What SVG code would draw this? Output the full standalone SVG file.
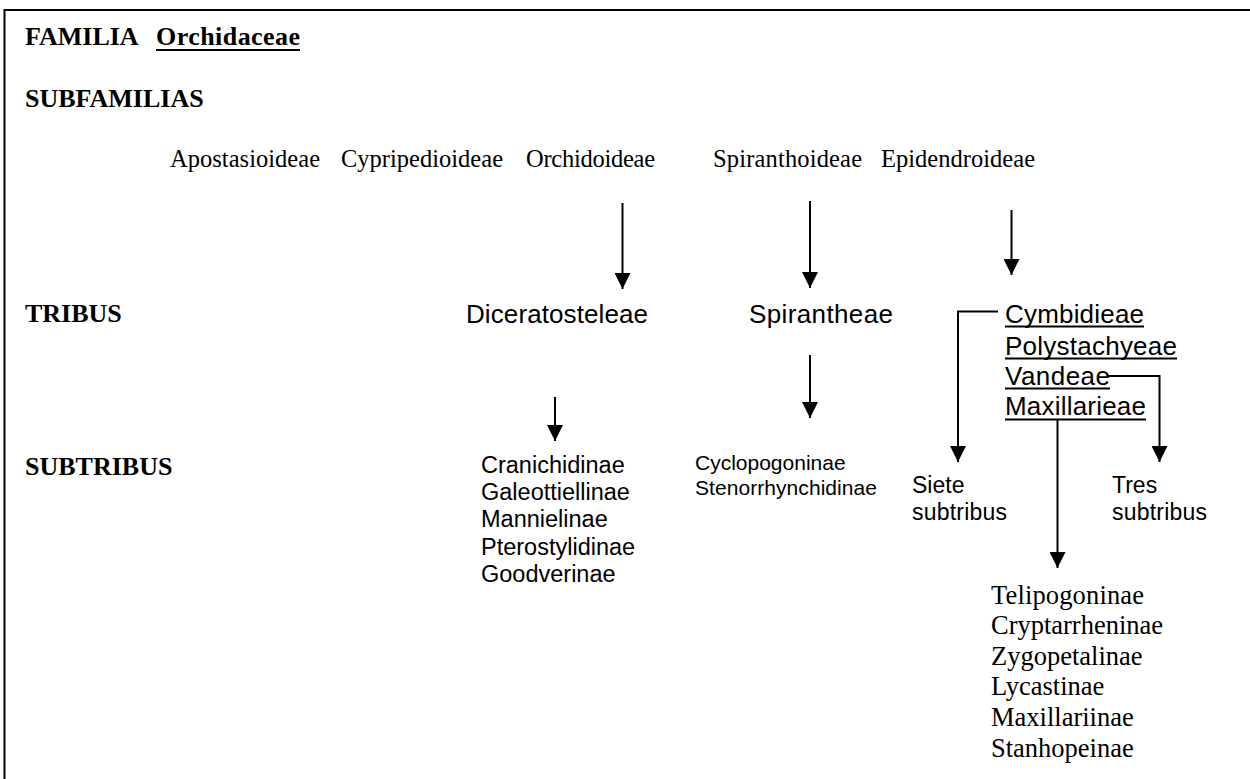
<svg xmlns="http://www.w3.org/2000/svg" width="1250" height="779" viewBox="0 0 1250 779">
<defs>
<marker id="ah" markerUnits="userSpaceOnUse" markerWidth="16" markerHeight="16" viewBox="0 0 16 16" refX="16" refY="8" orient="auto">
<path d="M0,0 L16,8 L0,16 z" fill="#000"/>
</marker>
<style>
.hd{font-family:"Liberation Serif","Times New Roman",serif;font-weight:bold;font-size:26px;fill:#000}
.sf{font-family:"Liberation Serif","Times New Roman",serif;font-size:24.5px;fill:#000}
.tb{font-family:"Liberation Sans",Arial,sans-serif;font-size:26px;fill:#000}
.st{font-family:"Liberation Sans",Arial,sans-serif;font-size:23.5px;fill:#000}
.st2{font-family:"Liberation Sans",Arial,sans-serif;font-size:21px;fill:#000}
.st3{font-family:"Liberation Sans",Arial,sans-serif;font-size:23px;fill:#000}
.tl{font-family:"Liberation Serif","Times New Roman",serif;font-size:26.5px;fill:#000}
.ul{stroke:#000;stroke-width:2;fill:none}
.cn{stroke:#000;stroke-width:2;fill:none}
.ar{stroke:#000;stroke-width:2;fill:none;marker-end:url(#ah)}
</style>
</defs>
<rect width="1250" height="779" fill="#fff"/>
<g id="border">
<line x1="4.5" y1="10" x2="4.5" y2="779" stroke="#000" stroke-width="2"/>
<line x1="3.5" y1="10" x2="1250" y2="10" stroke="#000" stroke-width="2"/>
</g>
<g id="headings">
<text class="hd" x="25" y="45">FAMILIA</text>
<text class="hd" x="156" y="45" textLength="144">Orchidaceae</text>
<line class="ul" x1="156" y1="50" x2="300" y2="50"/>
<text class="hd" x="25" y="107">SUBFAMILIAS</text>
<text class="hd" x="25" y="322">TRIBUS</text>
<text class="hd" x="25" y="475">SUBTRIBUS</text>
</g>
<g id="subfamilias">
<text class="sf" x="170" y="167" textLength="150">Apostasioideae</text>
<text class="sf" x="341" y="167" textLength="162">Cypripedioideae</text>
<text class="sf" x="526" y="167" textLength="129">Orchidoideae</text>
<text class="sf" x="713" y="167" textLength="149">Spiranthoideae</text>
<text class="sf" x="881" y="167" textLength="154">Epidendroideae</text>
</g>
<g id="tribu-diceratosteleae">
<text class="tb" x="466" y="323" textLength="182">Diceratosteleae</text>
</g>
<g id="tribu-spirantheae">
<text class="tb" x="749" y="323" textLength="144">Spirantheae</text>
</g>
<g id="tribus-epidendroideae">
<text class="tb" x="1005" y="323" textLength="139">Cymbidieae</text>
<line class="ul" x1="1005" y1="326.5" x2="1144" y2="326.5"/>
<text class="tb" x="1005" y="355" textLength="172">Polystachyeae</text>
<line class="ul" x1="1005" y1="358.5" x2="1177" y2="358.5"/>
<text class="tb" x="1005" y="385" textLength="105">Vandeae</text>
<line class="ul" x1="1005" y1="388.5" x2="1110" y2="388.5"/>
<text class="tb" x="1005" y="415" textLength="141">Maxillarieae</text>
<line class="ul" x1="1005" y1="419.5" x2="1146" y2="419.5"/>
</g>
<g id="subtribus-diceratosteleae">
<text class="st" x="481" y="473">Cranichidinae</text>
<text class="st" x="481" y="499.5">Galeottiellinae</text>
<text class="st" x="481" y="527">Mannielinae</text>
<text class="st" x="481" y="555">Pterostylidinae</text>
<text class="st" x="481" y="582">Goodverinae</text>
</g>
<g id="subtribus-spirantheae">
<text class="st2" x="695" y="470">Cyclopogoninae</text>
<text class="st2" x="695" y="495" textLength="182">Stenorrhynchidinae</text>
</g>
<g id="siete">
<text class="st3" x="912" y="493">Siete</text>
<text class="st3" x="912" y="520" textLength="95">subtribus</text>
</g>
<g id="tres">
<text class="st3" x="1112" y="493">Tres</text>
<text class="st3" x="1112" y="520" textLength="95">subtribus</text>
</g>
<g id="subtribus-maxillarieae">
<text class="tl" x="991" y="603.5" textLength="153">Telipogoninae</text>
<text class="tl" x="991" y="634" textLength="172">Cryptarrheninae</text>
<text class="tl" x="991" y="665">Zygopetalinae</text>
<text class="tl" x="991" y="695">Lycastinae</text>
<text class="tl" x="991" y="726">Maxillariinae</text>
<text class="tl" x="991" y="757">Stanhopeinae</text>
</g>
<g id="connectors">
<line class="ar" x1="622.5" y1="203" x2="622.5" y2="289"/>
<line class="ar" x1="810" y1="201" x2="810" y2="288"/>
<line class="ar" x1="1011.5" y1="210" x2="1011.5" y2="275"/>
<line class="ar" x1="555" y1="397" x2="555" y2="441"/>
<line class="ar" x1="810" y1="355" x2="810" y2="418"/>
<polyline class="ar" points="998,311.5 958,311.5 958,462"/>
<polyline class="ar" points="1108,376 1159.5,376 1159.5,462"/>
<line class="ar" x1="1057.5" y1="419" x2="1057.5" y2="568"/>
</g>
</svg>
